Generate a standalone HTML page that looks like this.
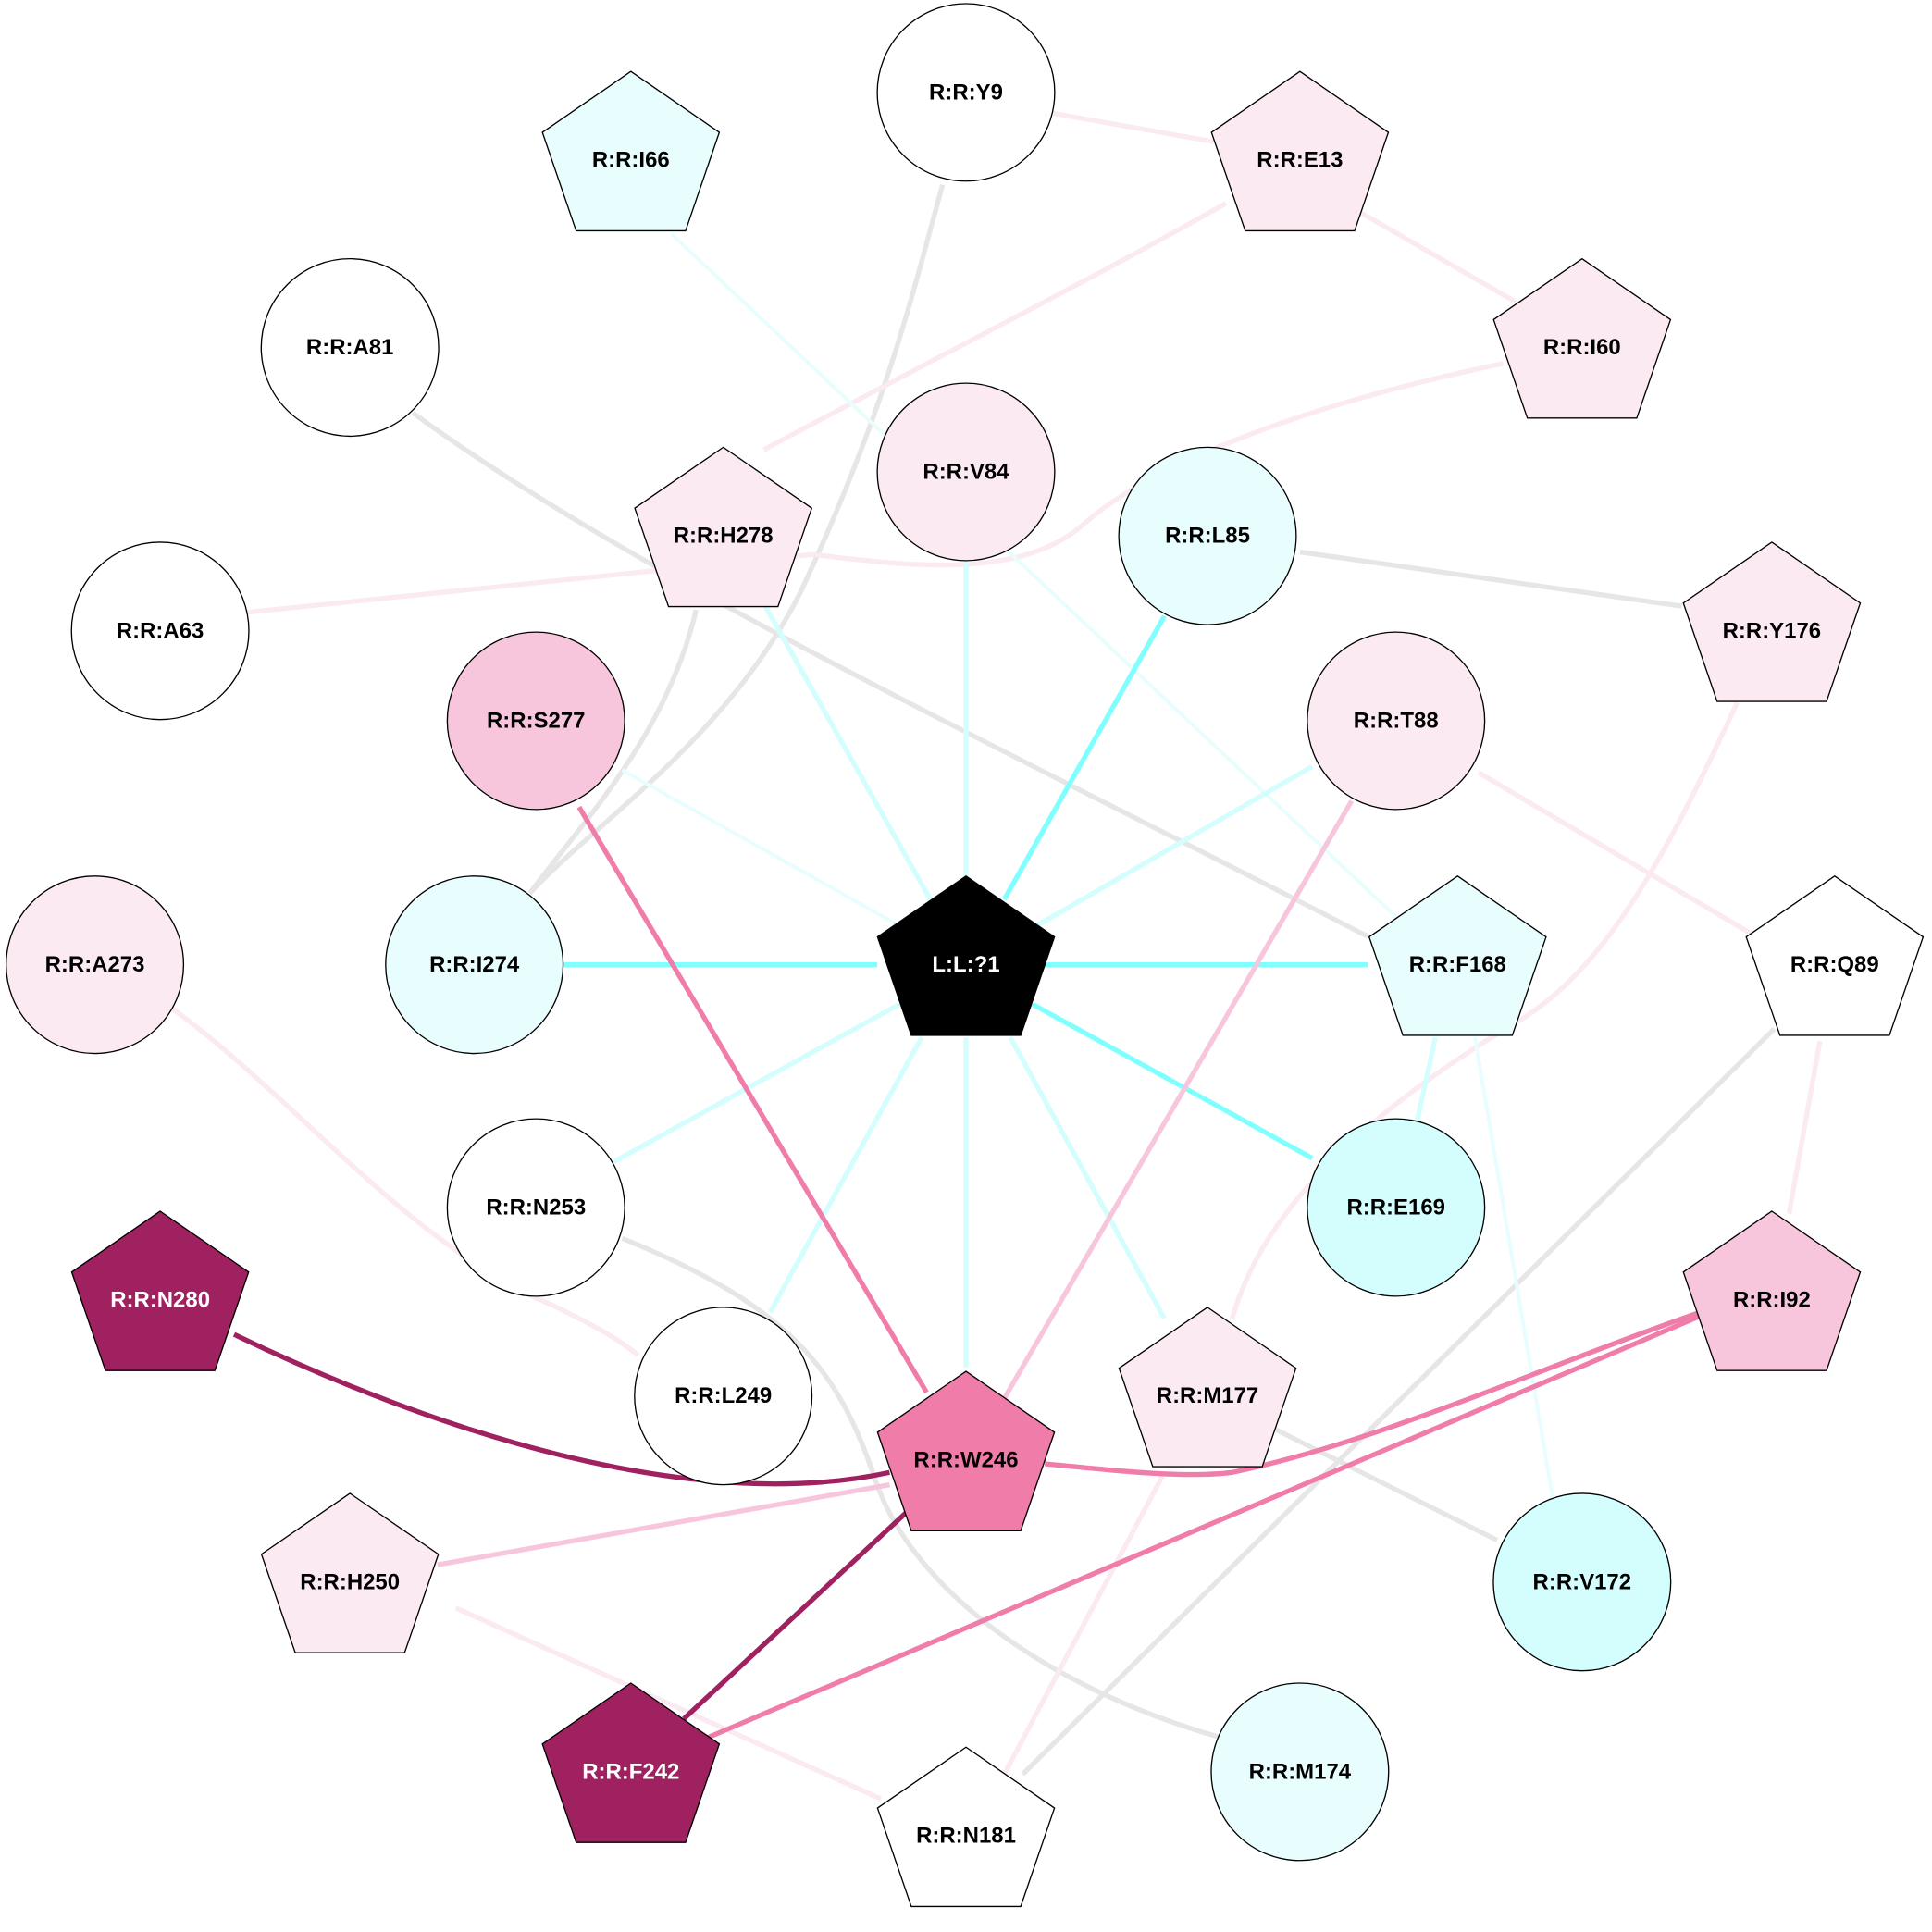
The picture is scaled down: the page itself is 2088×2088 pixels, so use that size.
<!DOCTYPE html>
<html><head><meta charset="utf-8"><style>
html,body{margin:0;padding:0;background:#fff;}
svg{display:block}
text{font-family:"Liberation Sans",Arial,sans-serif;font-weight:bold;font-size:18px;text-anchor:middle;dominant-baseline:central}
</style></head><body>
<svg width="2088" height="2088" viewBox="0 0 1568 1568" xmlns="http://www.w3.org/2000/svg">
<rect width="1568" height="1568" fill="#fff"/>
<g fill="none" stroke-linecap="butt">
<!-- gray -->
<path d="M765,150 C740,240 720,330 650,480 C590,600 480,670 430,725" stroke="#e6e6e6" stroke-width="4"/>
<path d="M565,495 C540,600 470,670 430,725" stroke="#e6e6e6" stroke-width="4"/>
<path d="M335,335 C520,470 800,600 1110,760" stroke="#e6e6e6" stroke-width="4"/>
<path d="M1055,448 L1365,492" stroke="#e6e6e6" stroke-width="4"/>
<path d="M1440,835 L830,1440" stroke="#e6e6e6" stroke-width="4"/>
<path d="M505,1005 C640,1060 680,1110 710,1200 C740,1290 850,1370 990,1410" stroke="#e6e6e6" stroke-width="4"/>
<path d="M1035,1160 L1215,1250" stroke="#e6e6e6" stroke-width="4"/>
<!-- very light pink -->
<path d="M855,92 L985,115" stroke="#fbeaf1" stroke-width="4"/>
<path d="M1100,170 L1230,245" stroke="#fbeaf1" stroke-width="4"/>
<path d="M995,165 C880,230 760,290 620,365" stroke="#fbeaf1" stroke-width="4"/>
<path d="M1220,295 C1050,330 930,380 880,425 C830,470 740,460 660,450 L200,497" stroke="#fbeaf1" stroke-width="4"/>
<path d="M1200,627 L1425,760" stroke="#fbeaf1" stroke-width="4"/>
<path d="M1410,570 C1350,700 1300,790 1230,830 C1080,920 1020,1000 1000,1070" stroke="#fbeaf1" stroke-width="4"/>
<path d="M1477,845 L1452,985" stroke="#fbeaf1" stroke-width="4"/>
<path d="M135,815 C240,890 330,1010 450,1060 C480,1075 500,1085 518,1100" stroke="#fbeaf1" stroke-width="4"/>
<path d="M370,1305 L715,1460" stroke="#fbeaf1" stroke-width="4"/>
<path d="M945,1195 L815,1440" stroke="#fbeaf1" stroke-width="4"/>
<!-- light cyan -->
<path d="M545,190 L1150,760" stroke="#e8fefe" stroke-width="3"/>
<path d="M1197,842 L1260,1215" stroke="#e8fefe" stroke-width="3"/>
<path d="M505,625 L740,757" stroke="#e8fefe" stroke-width="3"/>
<path d="M620,490 L755,730" stroke="#d4fefe" stroke-width="4"/>
<path d="M784,455 L784,712" stroke="#d4fefe" stroke-width="4"/>
<path d="M1065,622 L835,755" stroke="#d4fefe" stroke-width="4"/>
<path d="M730,815 L498,943" stroke="#d4fefe" stroke-width="4"/>
<path d="M748,842 L625,1065" stroke="#d4fefe" stroke-width="4"/>
<path d="M784,842 L784,1110" stroke="#d4fefe" stroke-width="4"/>
<path d="M820,842 L945,1070" stroke="#d4fefe" stroke-width="4"/>
<path d="M1165,842 L1150,910" stroke="#d4fefe" stroke-width="4"/>
<!-- strong cyan -->
<path d="M945,500 L815,730" stroke="#80ffff" stroke-width="4"/>
<path d="M848,783 L1110,783" stroke="#80ffff" stroke-width="4"/>
<path d="M838,815 L1065,940" stroke="#80ffff" stroke-width="4"/>
<path d="M457,783 L712,783" stroke="#80ffff" stroke-width="4"/>
<!-- pinks -->
<path d="M470,655 L752,1130" stroke="#f07ca9" stroke-width="4"/>
<path d="M1097,650 L815,1135" stroke="#f7c6dc" stroke-width="4"/>
<path d="M722,1205 L355,1270" stroke="#f7c6dc" stroke-width="4"/>
<path d="M848,1188 C900,1193 960,1200 1000,1195 C1120,1170 1250,1110 1380,1065" stroke="#f07ca9" stroke-width="4"/>
<path d="M575,1410 L1380,1068" stroke="#f07ca9" stroke-width="4"/>
<path d="M190,1083 C350,1160 560,1230 722,1195" stroke="#a0215f" stroke-width="4"/>
<path d="M735,1228 L555,1395" stroke="#a0215f" stroke-width="4"/>
</g>
<g stroke="#000" stroke-width="1">
<circle cx="784" cy="75" r="72" fill="#fff"/>
<circle cx="284" cy="282" r="72" fill="#fff"/>
<circle cx="784" cy="383" r="72" fill="#fbeaf1"/>
<circle cx="980" cy="435" r="72" fill="#e8fefe"/>
<circle cx="130" cy="512" r="72" fill="#fff"/>
<circle cx="435" cy="585" r="72" fill="#f7c6dc"/>
<circle cx="1133" cy="585" r="72" fill="#fbeaf1"/>
<circle cx="385" cy="783" r="72" fill="#e8fefe"/>
<circle cx="77" cy="783" r="72" fill="#fbeaf1"/>
<circle cx="435" cy="980" r="72" fill="#fff"/>
<circle cx="1133" cy="980" r="72" fill="#d4fefe"/>
<circle cx="587" cy="1133" r="72" fill="#fff"/>
<circle cx="1284" cy="1284" r="72" fill="#d4fefe"/>
<circle cx="1055" cy="1438" r="72" fill="#e8fefe"/>
</g>
<g stroke="#000" stroke-width="1" id="pents"></g>
<g id="labels"></g>
<script>
var P=[["R:R:I66",512,130,"#e8fefe"],["R:R:E13",1055,130,"#fbeaf1"],["R:R:I60",1284,282,"#fbeaf1"],["R:R:H278",587,435,"#fbeaf1"],["R:R:Y176",1438,512,"#fbeaf1"],["L:L:?1",784,783,"#000"],["R:R:F168",1183,783,"#e8fefe"],["R:R:Q89",1489,783,"#fff"],["R:R:N280",130,1055,"#a0215f"],["R:R:I92",1438,1055,"#f7c6dc"],["R:R:W246",784,1185,"#f07ca9"],["R:R:M177",980,1133,"#fbeaf1"],["R:R:H250",284,1284,"#fbeaf1"],["R:R:F242",512,1438,"#a0215f"],["R:R:N181",784,1490,"#fff"]];
var C=[["R:R:Y9",784,75],["R:R:A81",284,282],["R:R:V84",784,383],["R:R:L85",980,435],["R:R:A63",130,512],["R:R:S277",435,585],["R:R:T88",1133,585],["R:R:I274",385,783],["R:R:A273",77,783],["R:R:N253",435,980],["R:R:E169",1133,980],["R:R:L249",587,1133],["R:R:V172",1284,1284],["R:R:M174",1055,1438]];
var ns="http://www.w3.org/2000/svg",g=document.getElementById("pents"),L=document.getElementById("labels");
function t(s,x,y,c){var e=document.createElementNS(ns,"text");e.setAttribute("x",x);e.setAttribute("y",y);e.setAttribute("fill",c);e.textContent=s;L.appendChild(e);}
P.forEach(function(p){var Rx=75.5,Ry=71.5,cy=p[2]-0.5,pts=[];for(var i=0;i<5;i++){var a=-Math.PI/2+i*2*Math.PI/5;pts.push((p[1]+Rx*Math.cos(a)).toFixed(1)+","+(cy+Ry*Math.sin(a)).toFixed(1));}
var e=document.createElementNS(ns,"polygon");e.setAttribute("points",pts.join(" "));e.setAttribute("fill",p[3]);g.appendChild(e);
t(p[0],p[1],p[2],(p[3]=="#000"||p[3]=="#a0215f")?"#fff":"#000");});
C.forEach(function(c){t(c[0],c[1],c[2],"#000");});
</script>
</svg>
</body></html>
